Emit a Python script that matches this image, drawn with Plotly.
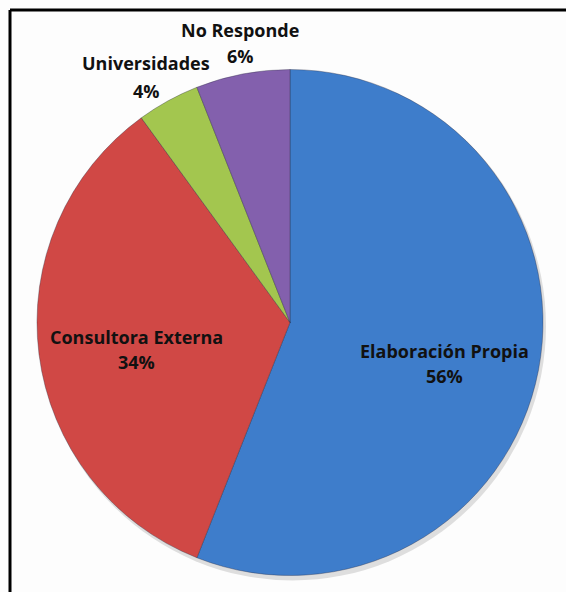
import plotly.graph_objects as go

labels = ["Elaboración Propia", "Consultora Externa", "Universidades", "No Responde"]
values = [56, 34, 4, 6]
colors = ["#3E7DCB", "#D04845", "#A3C64F", "#8360AD"]

W, H = 566, 592
cx, cy, r = 290, 322.5, 253

# label anchor points (pixel centres of the two text lines: name, percent)
label_pos = [(444, 351, 376), (136, 336.5, 362), (146, 63, 91), (240, 30, 56)]

fig = go.Figure(go.Pie(
    labels=labels,
    values=values,
    sort=False,
    direction="clockwise",
    rotation=0,
    marker=dict(colors=colors, line=dict(color="rgba(40,40,60,0.35)", width=1)),
    textinfo="none",
    showlegend=False,
    hoverinfo="label+percent",
    domain=dict(x=[(cx - r) / W, (cx + r) / W], y=[1 - (cy + r) / H, 1 - (cy - r) / H]),
))

total = sum(values)
font = dict(family="Open Sans", size=18, color="#111111", weight="bold")
annotations = []
for lab, val, (px, py1, py2) in zip(labels, values, label_pos):
    annotations.append(dict(text=lab, x=px / W, y=1 - py1 / H, xref="paper", yref="paper",
                            xanchor="center", yanchor="middle", showarrow=False, font=font))
    annotations.append(dict(text=f"{round(100 * val / total)}%", x=px / W, y=1 - py2 / H,
                            xref="paper", yref="paper", xanchor="center", yanchor="middle",
                            showarrow=False, font=font))

fig.update_layout(
    width=W, height=H,
    margin=dict(l=0, r=0, t=0, b=0),
    paper_bgcolor="#FDFDFD",
    plot_bgcolor="#FDFDFD",
    annotations=annotations,
    shapes=[
        dict(type="circle", xref="paper", yref="paper", layer="below",
             x0=(cx - r + 2) / W, x1=(cx + r + 3) / W, y0=1 - (cy + r + 5) / H, y1=1 - (cy - r + 2) / H,
             fillcolor="rgba(0,0,0,0.12)", line=dict(width=0)),
        dict(type="line", xref="paper", yref="paper", x0=10 / W, x1=1, y0=1 - 10 / H, y1=1 - 10 / H,
             line=dict(color="black", width=3)),
        dict(type="line", xref="paper", yref="paper", x0=10 / W, x1=10 / W, y0=0, y1=1 - 10 / H,
             line=dict(color="black", width=3)),
    ],
)

fig.write_html("out.html", config={"displayModeBar": False},
               post_script="document.body.style.margin='0';document.body.style.overflow='hidden';")
